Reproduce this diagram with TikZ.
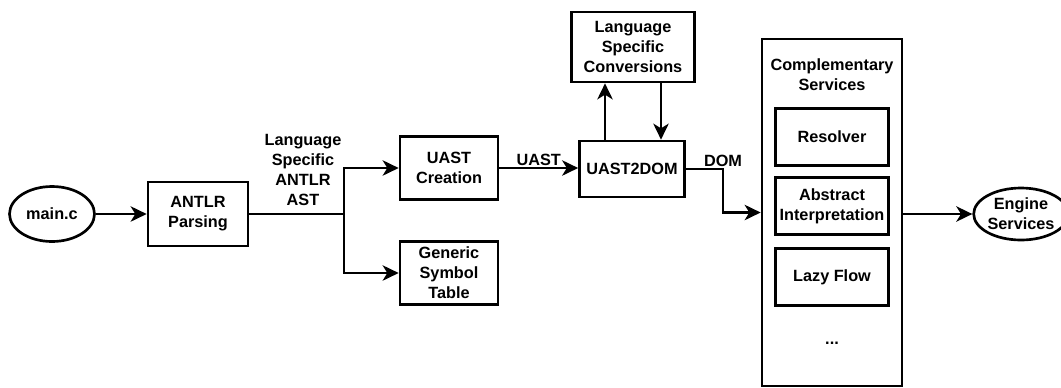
\documentclass[tikz,border=0pt]{standalone}
\usepackage{fontspec}
\setmainfont{Liberation Sans}
\usetikzlibrary{arrows.meta,shapes.geometric,positioning,calc}
\tikzset{
  lbl/.style={align=center, inner sep=1pt, font=\bfseries\fontsize{12.2}{15}\selectfont},
  stepbox/.style={lbl, draw, line width=2pt, inner sep=0pt},
  endpoint/.style={lbl, draw, ellipse, line width=2pt, inner sep=0pt},
  conn/.style={line width=2pt, draw=black},
  arr/.style={conn, -{Stealth[length=12pt, width=11.5pt, inset=3.5pt]}}
}

\begin{document}
\begin{tikzpicture}[x=0.75pt,y=-0.75pt]
  \useasboundingbox (0,0) rectangle (1061,387);
  % front end
  \node[endpoint, minimum width=63.75pt, minimum height=41.25pt] (mainc) at (52,214) {main.c};
  \node[stepbox, minimum width=75pt, minimum height=48pt] (antlr) at (198,214) {ANTLR\\Parsing};
  \coordinate (split) at (344,214);
  \node[lbl] (astlbl) at (303,170) {Language\\Specific\\ANTLR\\AST};
  \node[stepbox, minimum width=73.5pt, minimum height=47.25pt] (uastc) at (449,168) {UAST\\Creation};
  \node[stepbox, minimum width=73.5pt, minimum height=47.25pt] (gst) at (449,273) {Generic\\Symbol\\Table};
  % UAST to DOM
  \node[stepbox, minimum width=78.75pt, minimum height=42pt] (u2d) at (632,169) {UAST2DOM};
  \node[stepbox, minimum width=92.25pt, minimum height=52.5pt] (lsc) at (633,47) {Language\\Specific\\Conversions};
  \coordinate (upx) at (605,0);
  \coordinate (downx) at (661,0);
  \coordinate (domx) at (723,0);
  % services
  \node[stepbox, minimum width=105pt, minimum height=260.25pt] (comp) at (832,212.5) {};
  \node[lbl] (comptitle) at (832,75) {Complementary\\Services};
  \node[stepbox, minimum width=84.75pt, minimum height=42.75pt] (resolver) at (832,137) {Resolver};
  \node[stepbox, minimum width=84.75pt, minimum height=42.75pt] (absint) at (832,206) {Abstract\\Interpretation};
  \node[stepbox, minimum width=84.75pt, minimum height=42.75pt] (lazy) at (832,277) {Lazy Flow};
  \node[lbl] (more) at (832,343) {...};
  \node[endpoint, minimum width=58.5pt, minimum height=39pt] (engine) at (1021,214) {Engine\\Services};

  \draw[arr] (mainc) -- (antlr);
  \draw[conn] (antlr) -- (split);
  \draw[arr] (split) |- (uastc);
  \draw[arr] (split) |- (gst);
  \draw[arr] (uastc.east) -- node[lbl, above] {UAST} (uastc.east -| u2d.west);
  \draw[arr] (u2d.north -| upx) -- (lsc.south -| upx);
  \draw[arr] (lsc.south -| downx) -- (u2d.north -| downx);
  \draw[arr] (u2d.east) -- (u2d.east -| domx) node[lbl, above] {DOM} |- (comp.west);
  \draw[arr] (comp.east |- engine) -- (engine);
\end{tikzpicture}
\end{document}
